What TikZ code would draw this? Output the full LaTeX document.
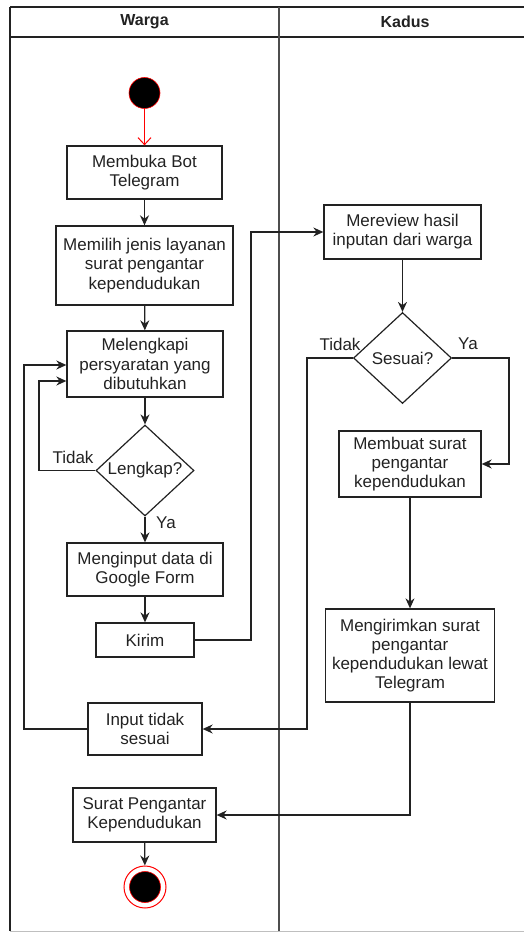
\documentclass[tikz,border=0pt]{standalone}
\usepackage{fontspec}
\setmainfont{Liberation Sans}
\usetikzlibrary{shapes.geometric,arrows.meta}
\definecolor{ink}{HTML}{222222}
\begin{document}
\begin{tikzpicture}[x=1pt,y=-1pt,
  box/.style={draw=ink,line width=1.3pt,rectangle,align=center,inner sep=0pt,
    font=\fontsize{17}{19.2}\selectfont,text=ink},
  dec/.style={draw=ink,line width=1.2pt,diamond,inner sep=0pt,
    minimum width=98pt,minimum height=91pt,font=\fontsize{17}{19.2}\selectfont,text=ink},
  arr/.style={line width=1.3pt,draw=ink,-{Stealth[length=10pt,width=9pt]}},
  lbl/.style={font=\fontsize{17}{19.2}\selectfont,text=ink,inner sep=0pt},
  hdr/.style={font=\bfseries\fontsize{16}{19}\selectfont,text=ink,inner sep=0pt}]
\useasboundingbox (0,0) rectangle (523,933);
% swimlane frame
\draw[line width=1.6pt,ink] (10,7) -- (530,7);
\draw[line width=1.6pt,ink] (10,37) -- (530,37);
\draw[line width=1.6pt,ink] (10,7) -- (10,931);
\draw[line width=1.4pt,ink!80] (279,7) -- (279,931);
\draw[line width=1pt,black!25] (10,931) -- (530,931);
\node[hdr] (hw) at (144.5,22) {Warga};
\node[hdr] (hk) at (405,22) {Kadus};
% nodes
\node[circle,fill=black,draw=red,line width=0.6pt,minimum size=31pt,inner sep=0pt] (start) at (144.5,93) {};
\node[box,minimum width=155pt,minimum height=53pt] (b1) at (144.5,172.5) {Membuka Bot\\Telegram};
\node[box,minimum width=177pt,minimum height=79pt] (b2) at (144.5,265.5) {Memilih jenis layanan\\surat pengantar\\kependudukan};
\node[box,minimum width=156pt,minimum height=66pt] (b3) at (145,364) {Melengkapi\\persyaratan yang\\dibutuhkan};
\node[dec] (d1) at (145,470.5) {Lengkap?};
\node[box,minimum width=156pt,minimum height=53pt] (b4) at (145,569.5) {Menginput data di\\Google Form};
\node[box,minimum width=98pt,minimum height=34pt] (kirim) at (145,640) {Kirim};
\node[box,minimum width=114pt,minimum height=52pt] (inp) at (145,729) {Input tidak\\sesuai};
\node[box,minimum width=143pt,minimum height=54pt] (surat) at (144.5,815) {Surat Pengantar\\Kependudukan};
\node[circle,draw=red,line width=1pt,fill=white,minimum size=42pt,inner sep=0pt] (endo) at (145,887) {};
\node[circle,fill=black,draw=red,line width=0.6pt,minimum size=31pt,inner sep=0pt] (endi) at (145,887) {};
\node[box,minimum width=157pt,minimum height=54pt] (rev) at (402.5,232) {Mereview hasil\\inputan dari warga};
\node[dec] (d2) at (402.5,358) {Sesuai?};
\node[box,minimum width=142pt,minimum height=66pt] (buat) at (410,464) {Membuat surat\\pengantar\\kependudukan};
\node[box,minimum width=169pt,minimum height=93pt] (kirimsurat) at (410,655.5) {Mengirimkan surat\\pengantar\\kependudukan lewat\\Telegram};
% labels
\node[lbl] (t1) at (73,457) {Tidak};
\node[lbl] (y1) at (166,523) {Ya};
\node[lbl] (t2) at (340,344) {Tidak};
\node[lbl] (y2) at (468,344) {Ya};
% bend points
\coordinate (l1) at (39,381);
\coordinate (l2) at (24,365);
\coordinate (k1) at (251,232);
\coordinate (s1) at (509,464);
\coordinate (s2) at (307,729);
\coordinate (m1) at (410,815);
% connectors
\draw[red,line width=1pt,-{Straight Barb[length=7pt,width=13pt]}] (start) -- (b1);
\draw[arr] (b1) -- (b2);
\draw[arr] (b2) -- (b3);
\draw[arr] (b3) -- (d1);
\draw[arr] (d1.west) -| (l1) -- (l1 -| b3.west);
\draw[arr] (d1) -- (b4);
\draw[arr] (b4) -- (kirim);
\draw[arr] (kirim.east) -| (k1) -- (rev.west);
\draw[arr] (rev) -- (d2);
\draw[arr] (d2.east) -| (s1) -- (buat.east);
\draw[arr] (d2.west) -| (s2) -- (inp.east);
\draw[arr] (inp.west) -| (l2) -- (l2 -| b3.west);
\draw[arr] (buat) -- (kirimsurat);
\draw[arr] (kirimsurat.south) |- (m1) -- (surat.east);
\draw[arr] (surat) -- (endo);
\end{tikzpicture}
\end{document}
